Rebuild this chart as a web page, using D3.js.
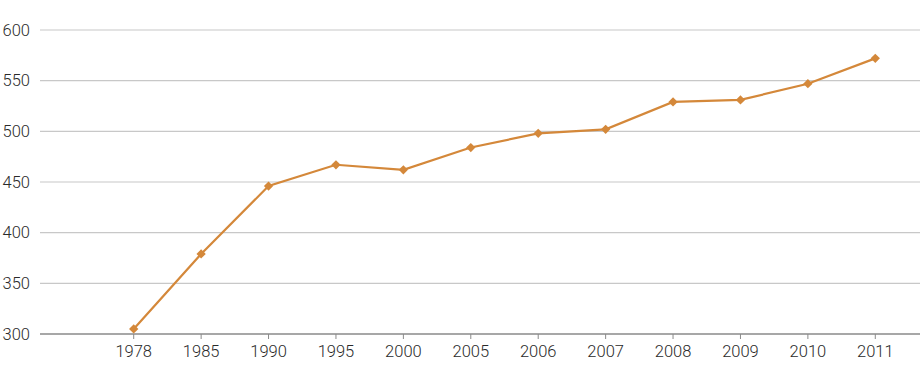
<!DOCTYPE html>
<html>
<head>
<meta charset="utf-8">
<script src="https://cdn.jsdelivr.net/npm/d3@7"></script>
<style>
  html,body{margin:0;padding:0;background:#fff;}
  svg{display:block;}
  text{font-family:Roboto,"Liberation Sans",Arial,sans-serif;font-weight:300;font-size:16.5px;fill:#2a2a2a;}
</style>
</head>
<body>
<svg id="chart" width="920" height="387"></svg>
<script>
// ---- data ----
const years  = ['1978','1985','1990','1995','2000','2005','2006','2007','2008','2009','2010','2011'];
const values = [305, 379, 446, 467, 462, 484, 498, 502, 529, 531, 547, 572];
const yTicks = [300, 350, 400, 450, 500, 550, 600];

const svg = d3.select('#chart');
const gridL = 40, gridR = 920;
const x = d3.scaleBand().domain(years).range([100, 909]);
const y = d3.scaleLinear().domain([300, 600]).range([334, 30]);
const COL = '#D4883A';

// gridlines
svg.append('g').selectAll('line').data(yTicks.filter(t=>t>300)).join('line')
  .attr('x1', gridL).attr('x2', gridR)
  .attr('y1', d=>y(d)).attr('y2', d=>y(d))
  .attr('stroke', '#c8c8c8').attr('stroke-width', 1.2);

// y labels
svg.append('g').selectAll('text').data(yTicks).join('text')
  .attr('x', 30).attr('y', d=>y(d)).attr('dy', '0.35em')
  .attr('text-anchor', 'end').text(d=>d);

// x axis
const xAxis = svg.append('g').attr('transform', `translate(0,${y(300)})`)
  .call(d3.axisBottom(x).tickSize(5).tickPadding(6));
xAxis.select('.domain').remove();
xAxis.selectAll('.tick line').attr('stroke', '#8a8a8a');
xAxis.selectAll('.tick text').attr('font-family', null).attr('font-size', null);
svg.append('line').attr('x1', gridL).attr('x2', gridR)
  .attr('y1', y(300)).attr('y2', y(300))
  .attr('stroke', '#8a8a8a').attr('stroke-width', 1.4);

// line + markers
const pts = years.map((yr,i)=>({yr, v: values[i]}));
const cx = d=>x(d.yr)+x.bandwidth()/2;
svg.append('path').datum(pts)
  .attr('fill', 'none').attr('stroke', COL).attr('stroke-width', 2.2)
  .attr('d', d3.line().x(cx).y(d=>y(d.v)));
svg.append('g').selectAll('path').data(pts).join('path')
  .attr('transform', d=>`translate(${cx(d)},${y(d.v)})`)
  .attr('d', d3.symbol(d3.symbolDiamond2, 55))
  .attr('fill', COL);
</script>
</body>
</html>
